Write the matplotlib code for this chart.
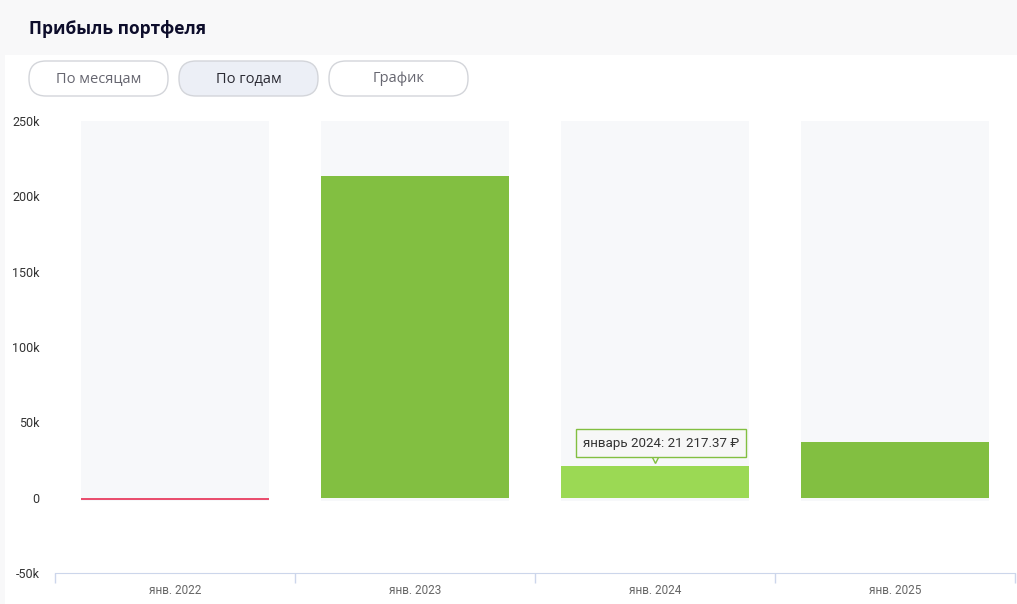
import matplotlib
matplotlib.use("Agg")
import matplotlib.pyplot as plt
from matplotlib.patches import FancyBboxPatch, Rectangle
from matplotlib.transforms import offset_copy

plt.rcParams['font.family'] = ['Roboto', 'DejaVu Sans']

years = ['янв. 2022', 'янв. 2023', 'янв. 2024', 'янв. 2025']
profit = [-1500, 213500, 21217.37, 37100]
bg_top = 250000
bg_bottom = -2400
yticks = [-50000, 0, 50000, 100000, 150000, 200000, 250000]
ytick_labels = ['-50k', '0', '50k', '100k', '150k', '200k', '250k']
buttons = ['По месяцам', 'По годам', 'График']
active_button = 1
highlight = 2
tooltip = 'январь 2024: 21 217.37 ₽'

W, H = 1017, 604
fig = plt.figure(figsize=(W / 100, H / 100), dpi=100)
fig.patch.set_facecolor('#f8f8f9')

# white panel below header
fig.patches.append(Rectangle((5 / W, 0), 1 - 5 / W, (H - 55) / H,
                             transform=fig.transFigure, facecolor='white',
                             edgecolor='none', zorder=-5))

fig.text(29 / W, 1 - 29 / H, 'Прибыль портфеля', fontsize=12.5, fontweight='bold',
         family=['Open Sans', 'DejaVu Sans'], color='#0d0d2b', va='center', ha='left')

# buttons
inch = fig.dpi_scale_trans
for i, b in enumerate(buttons):
    x0 = 29 + i * 150
    face = '#eceff6' if i == active_button else 'white'
    p = FancyBboxPatch((x0 / 100, (H - 96) / 100), 139 / 100, 35 / 100,
                       boxstyle='round,pad=0,rounding_size=0.17', transform=inch,
                       facecolor=face, edgecolor='#d3d5da', linewidth=1, zorder=-4)
    fig.patches.append(p)
    fig.text((x0 + 69.5) / W, 1 - 79 / H, b, fontsize=10.5,
             family=['Open Sans', 'DejaVu Sans'],
             color='#2a2a33' if i == active_button else '#666670',
             ha='center', va='center')

ax = fig.add_axes([55 / W, (H - 573) / H, 960 / W, (573 - 121) / H])
ax.set_zorder(2)
ax.set_facecolor('none')
x = list(range(len(years)))

ax.bar(x, [bg_top - bg_bottom] * len(x), bottom=bg_bottom, width=0.78,
       color='#f7f8fa', zorder=1)
colors = []
for i, v in enumerate(profit):
    if v < 0:
        colors.append('#e94e6e')
    elif i == highlight:
        colors.append('#9bd954')
    else:
        colors.append('#82bf41')
ax.bar(x, profit, width=0.78, color=colors, zorder=2)

ax.set_xlim(-0.5, len(x) - 0.5)
ax.set_ylim(-50000, 250000)
ax.set_yticks(yticks)
ax.set_yticklabels(ytick_labels)
ax.set_xticks(x)
ax.set_xticklabels(years)
ax.set_xticks([i - 0.5 for i in range(len(x) + 1)], minor=True)

for s in ['top', 'right', 'left']:
    ax.spines[s].set_visible(False)
ax.spines['bottom'].set_color('#ccd6eb')
ax.tick_params(axis='y', length=0, pad=11, labelsize=9, labelcolor='#333333')
ax.tick_params(axis='x', which='major', length=0, pad=8, labelsize=8.5, labelcolor='#666666')
ax.tick_params(axis='x', which='minor', length=7, color='#ccd6eb', width=1)

# tooltip
tx, ty = highlight, profit[highlight]
ax.annotate(tooltip, xy=(tx, ty), xytext=(6, 16), textcoords='offset pixels',
            ha='center', va='bottom', fontsize=9.6, color='#333333', zorder=6,
            family=['Roboto', 'DejaVu Sans'],
            bbox=dict(boxstyle='square,pad=0.55', facecolor='#f7f7f7',
                      edgecolor='#82bf41', linewidth=1))
tip = offset_copy(ax.transData, fig=fig, x=0, y=7, units='dots')
ax.plot([tx], [ty], marker='v', markersize=6, markerfacecolor='#f7f7f7',
        markeredgecolor='#82bf41', markeredgewidth=1, transform=tip, zorder=5,
        clip_on=False)

fig.savefig('out.png', dpi=100)
